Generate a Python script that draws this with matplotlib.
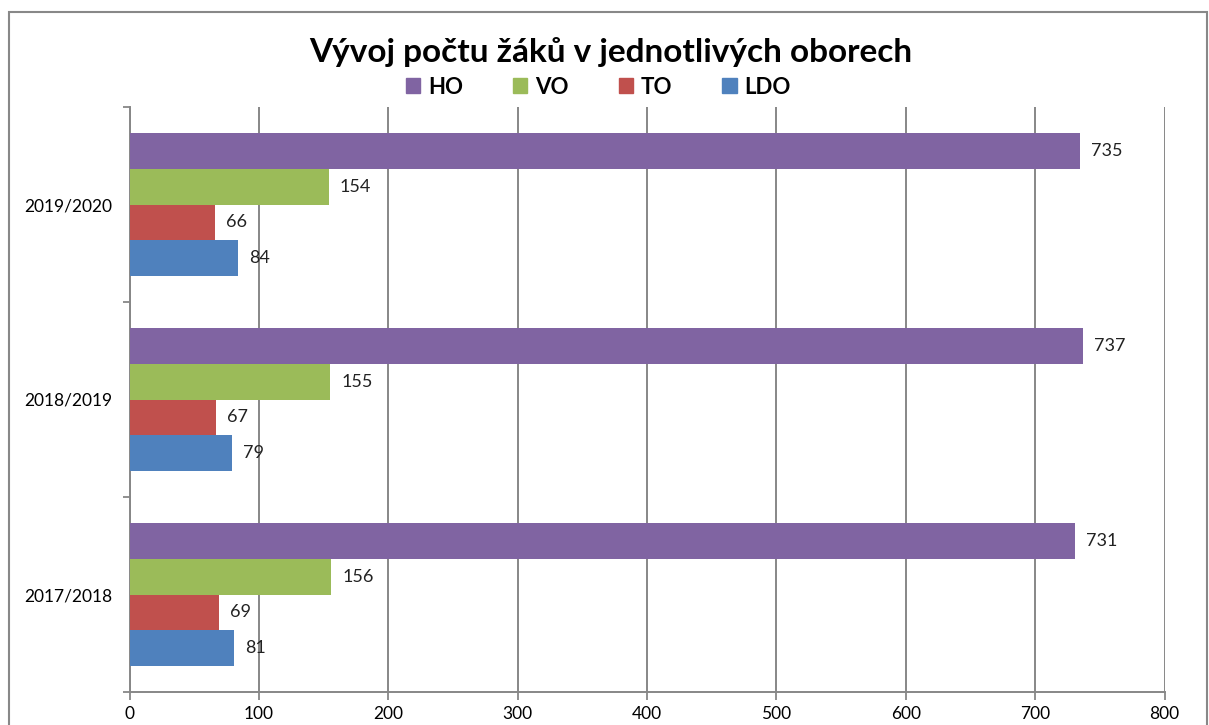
import matplotlib
matplotlib.use("Agg")
import matplotlib.pyplot as plt
import matplotlib.patches as mpatches
import numpy as np

categories = ["2017/2018", "2018/2019", "2019/2020"]
series_names = ["HO", "VO", "TO", "LDO"]
HO = [731, 737, 735]
VO = [156, 155, 154]
TO = [69, 67, 66]
LDO = [81, 79, 84]
colors = ["#8064A2", "#9BBB59", "#C0504D", "#4F81BD"]
x_ticks = [0, 100, 200, 300, 400, 500, 600, 700, 800]

plt.rcParams['font.family'] = ['Lato', 'DejaVu Sans']

fig = plt.figure(figsize=(12.09, 7.25), dpi=100)
ax = fig.add_axes([129.5/1209, 1-692/725, (1164.5-129.5)/1209, (692-107)/725])

grid_c = "#878787"
ypos = np.arange(len(categories))
h = 0.73/4
offsets = [1.5*h, 0.5*h, -0.5*h, -1.5*h]
data = [HO, VO, TO, LDO]
fs = 13
for vals, off, c, name in zip(data, offsets, colors, series_names):
    ax.barh(ypos + off, vals, height=h, color=c, label=name, zorder=3)
    for y, v in zip(ypos + off, vals):
        ax.text(v + 8.5, y, str(v), va='center', ha='left', fontsize=fs, color='#222222', zorder=4)

ax.set_xlim(0, 800)
ax.set_ylim(-0.5, len(categories)-0.5)
ax.set_xticks(x_ticks)
ax.set_xticklabels([str(t) for t in x_ticks], fontsize=12.5)
ax.set_yticks(ypos)
ax.set_yticklabels(categories, fontsize=12.5)
ax.set_yticks(np.arange(-0.5, len(categories)), minor=True)
ax.tick_params(axis='y', which='major', length=0, pad=12.5)
ax.tick_params(axis='y', which='minor', length=5, width=1.3, color=grid_c)
ax.tick_params(axis='x', length=6, width=1.3, color=grid_c, pad=4)
ax.xaxis.grid(True, color=grid_c, linewidth=1.4, zorder=0)
ax.set_axisbelow(True)
for s in ['top', 'right']:
    ax.spines[s].set_visible(False)
for s in ['left', 'bottom']:
    ax.spines[s].set_color(grid_c)
    ax.spines[s].set_linewidth(1.4)

fig.text(0.505, 1-52/725, "Vývoj počtu žáků v jednotlivých oborech", ha='center', va='center',
         fontsize=24, fontweight='bold')
handles = [mpatches.Patch(color=c) for c in colors]
fig.legend(handles, series_names, loc='center', bbox_to_anchor=(0.495, 1-87/725), ncol=4,
           frameon=False, prop={'weight': 'bold', 'size': 16}, handlelength=0.65,
           handleheight=0.65, handletextpad=0.35, columnspacing=2.25)

frame = mpatches.Rectangle((9/1209, -0.1), (1207-9)/1209, 1.1 - 12/725, transform=fig.transFigure,
                           fill=False, edgecolor='#888888', linewidth=1.5)
fig.patches.append(frame)

fig.savefig("out.png", dpi=100)
